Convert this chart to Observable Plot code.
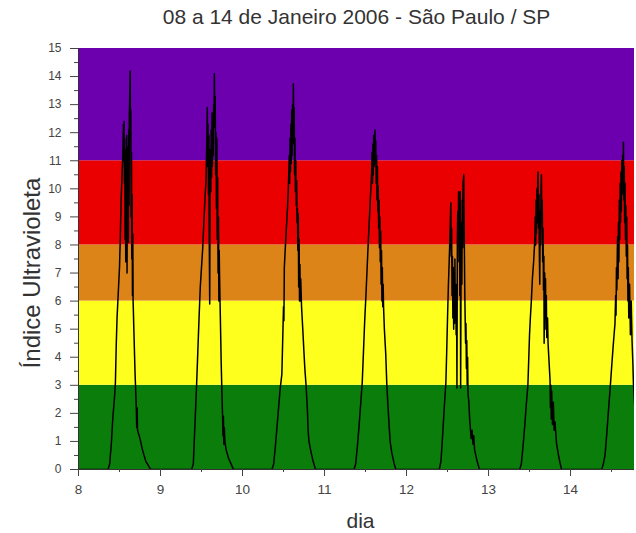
<!DOCTYPE html>
<html><head><meta charset="utf-8">
<script src="https://cdn.jsdelivr.net/npm/d3@7"></script>
<script src="https://cdn.jsdelivr.net/npm/@observablehq/plot@0.6"></script>
<style>body{margin:0;background:#fff} svg{display:block}</style>
</head><body><div id="chart"></div>
<script>
const titulo = "08 a 14 de Janeiro 2006 - São Paulo / SP";
const rotuloX = "dia";
const rotuloY = "Índice Ultravioleta";
const limitesFaixas = [0, 3, 6, 8, 11, 15];
const coresFaixas = ["#0b7d0b", "#ffff1e", "#dc8418", "#ea0000", "#6c00ae"];
const ticksX = [8, 9, 10, 11, 12, 13, 14];
const ticksXmenores = [8.5, 9.5, 10.5, 11.5, 12.5, 13.5, 14.5];
const ticksY = [0,1,2,3,4,5,6,7,8,9,10,11,12,13,14,15];
const ticksYmenores = [0.5,1.5,2.5,3.5,4.5,5.5,6.5,7.5,8.5,9.5,10.5,11.5,12.5,13.5,14.5];

// [dia, índice UV]
const dia08 = [[8.00,0],[8.36,0],[8.38,0.2],[8.40,0.9],[8.42,1.9],[8.44,2.6],[8.45,3.1],[8.46,4.4],[8.47,5.4],[8.48,6.0],[8.49,6.6],[8.50,7.2],[8.51,8.3],[8.52,9.6],[8.53,10.4],[8.54,11.2],[8.548,12.3],[8.552,11.0],[8.556,12.4],[8.56,10.2],[8.564,11.8],[8.568,8.2],[8.572,11.4],[8.576,7.4],[8.58,10.8],[8.584,8.8],[8.588,11.9],[8.592,7.0],[8.596,10.6],[8.60,9.2],[8.604,11.5],[8.608,8.1],[8.612,12.1],[8.616,9.4],[8.62,12.6],[8.625,13.3],[8.63,14.2],[8.634,11.8],[8.638,12.8],[8.642,9.0],[8.646,11.3],[8.65,7.5],[8.654,9.8],[8.658,6.2],[8.662,8.4],[8.666,6.0],[8.675,5.0],[8.69,3.4],[8.705,2.2],[8.71,1.5],[8.715,2.2],[8.72,1.4],[8.73,1.3],[8.75,1.1],[8.78,0.7],[8.82,0.3],[8.86,0.1],[8.88,0]];
const dia09 = [[9.38,0],[9.40,0.2],[9.42,1.6],[9.44,3.0],[9.455,4.2],[9.47,5.4],[9.485,6.5],[9.50,7.2],[9.515,7.9],[9.53,8.9],[9.545,9.8],[9.555,10.3],[9.565,11.8],[9.571,12.9],[9.575,10.8],[9.58,12.3],[9.585,9.8],[9.59,11.9],[9.595,8.0],[9.60,5.9],[9.604,9.6],[9.608,11.4],[9.613,9.9],[9.618,12.1],[9.623,10.4],[9.628,12.7],[9.633,10.8],[9.638,12.4],[9.643,11.2],[9.648,13.0],[9.653,12.2],[9.657,14.1],[9.662,12.4],[9.667,13.3],[9.672,10.5],[9.677,12.0],[9.682,9.3],[9.687,11.8],[9.692,8.2],[9.697,10.4],[9.702,7.0],[9.707,9.0],[9.712,6.0],[9.716,7.8],[9.72,6.9],[9.73,5.4],[9.74,3.8],[9.75,2.6],[9.757,1.9],[9.762,1.2],[9.767,1.9],[9.772,0.9],[9.778,1.5],[9.785,1.0],[9.80,0.7],[9.83,0.4],[9.86,0.2],[9.89,0]];
const dia10 = [[10.36,0],[10.38,0.2],[10.40,0.8],[10.42,1.5],[10.44,2.2],[10.46,2.9],[10.48,3.4],[10.49,4.6],[10.50,5.8],[10.505,5.3],[10.51,7.2],[10.52,7.8],[10.535,8.6],[10.55,9.4],[10.56,10.1],[10.57,11.2],[10.575,10.2],[10.58,11.8],[10.585,10.6],[10.59,12.3],[10.595,10.9],[10.60,12.8],[10.605,11.2],[10.61,13.0],[10.615,11.6],[10.62,13.74],[10.625,12.2],[10.63,12.9],[10.635,10.5],[10.64,11.8],[10.645,9.9],[10.65,11.0],[10.655,9.4],[10.66,10.3],[10.665,8.8],[10.67,9.3],[10.675,7.8],[10.68,9.1],[10.685,6.5],[10.69,8.2],[10.695,6.0],[10.70,7.3],[10.705,6.0],[10.71,6.8],[10.72,5.8],[10.735,5.0],[10.747,4.3],[10.76,3.6],[10.775,3.0],[10.79,2.2],[10.80,1.4],[10.81,1.0],[10.83,0.7],[10.86,0.3],[10.89,0]];
const dia11 = [[11.36,0],[11.38,0.2],[11.40,0.8],[11.42,1.5],[11.44,2.3],[11.46,3.1],[11.475,4.2],[11.49,5.3],[11.505,6.2],[11.52,7.2],[11.535,8.2],[11.55,9.1],[11.563,9.9],[11.575,10.6],[11.58,11.3],[11.585,10.2],[11.59,11.6],[11.595,10.5],[11.60,11.9],[11.605,10.8],[11.61,11.7],[11.616,12.1],[11.62,10.9],[11.625,11.7],[11.63,10.2],[11.635,11.2],[11.64,9.6],[11.645,10.8],[11.65,9.2],[11.655,10.1],[11.66,8.6],[11.665,9.6],[11.67,7.9],[11.675,9.0],[11.68,7.4],[11.685,8.5],[11.69,6.6],[11.695,7.8],[11.70,6.0],[11.705,7.2],[11.71,5.8],[11.715,6.6],[11.72,5.8],[11.73,5.0],[11.747,4.1],[11.76,3.0],[11.775,2.2],[11.787,1.6],[11.80,1.0],[11.82,0.6],[11.85,0.2],[11.87,0]];
const dia12 = [[12.40,0],[12.42,0.3],[12.44,1.2],[12.46,2.2],[12.48,3.1],[12.49,4.2],[12.50,5.4],[12.51,6.5],[12.52,7.4],[12.53,8.3],[12.54,9.5],[12.545,7.6],[12.55,8.6],[12.555,6.2],[12.56,7.6],[12.565,5.4],[12.57,7.2],[12.575,5.0],[12.58,6.8],[12.585,5.2],[12.59,7.5],[12.595,5.6],[12.60,6.6],[12.605,4.8],[12.61,6.0],[12.615,2.9],[12.62,8.2],[12.625,9.2],[12.63,8.1],[12.635,9.9],[12.64,7.4],[12.645,9.0],[12.65,6.2],[12.655,9.9],[12.66,2.9],[12.665,7.0],[12.67,8.8],[12.675,6.6],[12.68,9.6],[12.685,7.9],[12.69,10.2],[12.698,10.5],[12.705,8.0],[12.71,6.4],[12.715,5.4],[12.72,4.5],[12.725,5.2],[12.73,3.6],[12.735,4.6],[12.74,3.0],[12.745,4.0],[12.75,2.7],[12.76,2.4],[12.77,1.8],[12.788,1.1],[12.80,1.4],[12.81,0.9],[12.82,1.2],[12.83,0.7],[12.86,0.3],[12.89,0]];
const dia13 = [[13.38,0],[13.40,0.2],[13.42,0.8],[13.44,1.5],[13.46,2.3],[13.48,3.0],[13.49,3.9],[13.50,4.8],[13.51,5.4],[13.522,6.0],[13.535,6.8],[13.55,7.4],[13.563,8.1],[13.57,9.0],[13.575,8.0],[13.58,9.6],[13.585,8.4],[13.59,10.0],[13.595,8.8],[13.60,10.3],[13.604,10.6],[13.61,8.6],[13.615,9.8],[13.62,7.6],[13.625,6.6],[13.63,9.2],[13.635,8.0],[13.64,9.9],[13.645,10.5],[13.65,8.8],[13.655,9.6],[13.66,7.4],[13.665,8.6],[13.67,6.4],[13.675,7.6],[13.678,4.5],[13.685,7.0],[13.69,5.6],[13.695,6.8],[13.70,5.0],[13.705,6.2],[13.71,4.7],[13.72,5.4],[13.726,4.5],[13.735,4.0],[13.75,3.2],[13.755,2.2],[13.76,3.0],[13.765,1.8],[13.77,2.8],[13.78,1.6],[13.79,2.4],[13.80,1.4],[13.81,1.7],[13.83,0.9],[13.86,0.4],[13.89,0]];
const dia14 = [[14.38,0],[14.40,0.2],[14.42,0.5],[14.44,1.2],[14.46,2.0],[14.481,2.8],[14.50,3.6],[14.52,4.4],[14.542,5.2],[14.55,6.2],[14.555,5.5],[14.56,7.2],[14.565,6.4],[14.571,7.9],[14.575,8.3],[14.58,6.8],[14.585,8.8],[14.59,7.4],[14.595,9.6],[14.60,8.2],[14.605,10.2],[14.61,8.8],[14.615,10.6],[14.62,9.2],[14.625,11.0],[14.63,9.8],[14.635,11.2],[14.64,10.2],[14.645,11.66],[14.65,9.6],[14.655,10.8],[14.66,8.8],[14.665,10.2],[14.67,8.2],[14.675,9.4],[14.68,7.6],[14.685,9.0],[14.69,6.8],[14.695,8.0],[14.70,6.0],[14.705,7.2],[14.71,5.4],[14.72,6.6],[14.73,4.8],[14.74,6.0],[14.75,4.6],[14.76,3.8],[14.767,3.06],[14.78,2.4],[14.79,1.9],[14.80,1.6],[14.81,1.4],[14.82,1.2]];

const faixas = coresFaixas.map((c, i) => ({y1: limitesFaixas[i], y2: limitesFaixas[i + 1], cor: c}));
const serie = [...dia08, ...dia09, ...dia10, ...dia11, ...dia12, ...dia13, ...dia14].map(([t, v]) => ({t, v}));

const chart = Plot.plot({
  width: 636, height: 533,
  marginTop: 48, marginBottom: 64, marginLeft: 78, marginRight: 2,
  style: {fontFamily: "'Liberation Sans', Arial, sans-serif", background: "#fff"},
  x: {domain: [8, 14.78]},
  y: {domain: [0, 15]},
  color: {type: "identity"},
  marks: [
    Plot.rect(faixas, {y1: "y1", y2: "y2", fill: "cor"}),
    Plot.line(serie, {x: "t", y: "v", stroke: "#000", strokeWidth: 1.5, clip: true}),
    Plot.ruleX([8], {stroke: "#333"}),
    Plot.ruleY([0], {stroke: "#333"}),
    Plot.axisY(ticksY, {tickSize: 8, tickPadding: 9, fontSize: 12, color: "#444", label: null}),
    Plot.axisY(ticksYmenores, {tickSize: 4, tickFormat: () => "", label: null, color: "#444"}),
    Plot.axisX(ticksX, {tickSize: 7, tickPadding: 8, fontSize: 13.5, color: "#444", label: null}),
    Plot.axisX(ticksXmenores, {tickSize: 3, tickFormat: () => "", label: null, color: "#444"}),
    Plot.text([titulo], {text: d => d, frameAnchor: "top", dy: -31, fontSize: 21, fill: "#333", lineAnchor: "middle", textAnchor: "middle"}),
    Plot.text([rotuloX], {text: d => d, frameAnchor: "bottom", dy: 52, dx: 4, fontSize: 21, fill: "#333", lineAnchor: "middle", textAnchor: "middle"}),
    Plot.text([rotuloY], {text: d => d, frameAnchor: "left", dx: -46, dy: 14, rotate: -90, fontSize: 24, fill: "#333", lineAnchor: "middle", textAnchor: "middle"})
  ]
});
document.getElementById("chart").appendChild(chart);
</script>
</body></html>
